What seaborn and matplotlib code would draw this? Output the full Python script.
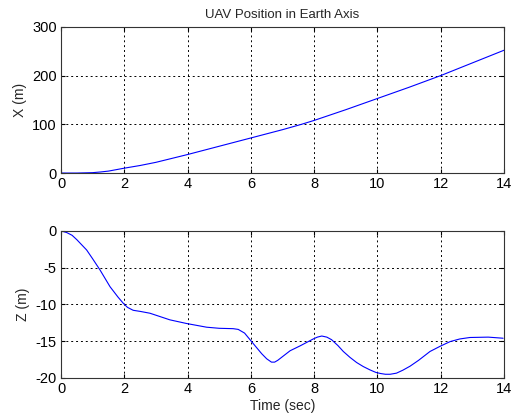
import pandas as pd
import seaborn as sns
import matplotlib.pyplot as plt

# values
time_x = [0, 0.5, 1.0, 1.25, 1.5, 2.0, 2.5, 3.0, 3.5, 4.0, 5.0, 6.0, 7.0, 7.6, 8.0, 9.0,
          10.0, 11.0, 12.0, 13.0, 14.0]
x_pos = [0, 0, 0.8, 2.2, 4, 10, 15.5, 22, 30, 38, 55, 72, 89, 100, 108, 130,
         153, 176, 200, 226, 252]

time_z = [0, 0.18, 0.35, 0.5, 0.81, 1.0, 1.23, 1.55, 1.8, 1.97, 2.1, 2.28, 2.5, 2.81, 3.44,
          3.97, 4.6, 5.0, 5.44, 5.6, 5.8, 6.03, 6.34, 6.5, 6.65, 6.75, 6.85, 7.0, 7.24,
          7.55, 7.97, 8.1, 8.24, 8.4, 8.55, 8.75, 8.92, 9.13, 9.34, 9.55, 9.76, 9.95, 10.1,
          10.25, 10.4, 10.6, 10.8, 11.03, 11.3, 11.66, 12.0, 12.3, 12.6, 12.92, 13.5, 13.97]
z_pos = [0, -0.23, -0.6, -1.2, -2.6, -3.8, -5.3, -7.6, -9.0, -9.86, -10.4, -10.8, -10.95,
         -11.2, -12.1, -12.6, -13.1, -13.25, -13.3, -13.4, -13.9, -15.1, -16.7, -17.4,
         -17.85, -17.85, -17.6, -17.1, -16.3, -15.65, -14.7, -14.45, -14.3, -14.45, -14.8,
         -15.6, -16.4, -17.2, -17.9, -18.45, -18.9, -19.25, -19.4, -19.5, -19.5, -19.35,
         -18.95, -18.4, -17.6, -16.4, -15.65, -15.05, -14.7, -14.5, -14.45, -14.6]

df_x = pd.DataFrame({"t": time_x, "x": x_pos})
df_z = pd.DataFrame({"t": time_z, "z": z_pos})

sns.set_style("white")
plt.rcParams['font.family'] = ['Liberation Sans', 'DejaVu Sans']
plt.rcParams['axes.unicode_minus'] = False

fig = plt.figure(figsize=(5.17, 4.19), dpi=100)
ax1 = fig.add_axes([0.118, 0.587, 0.857, 0.349])
ax2 = fig.add_axes([0.118, 0.098, 0.857, 0.351])

sns.lineplot(data=df_x, x="t", y="x", ax=ax1, color="#0000ff", linewidth=0.8)
sns.lineplot(data=df_z, x="t", y="z", ax=ax2, color="#0000ff", linewidth=0.8)

for ax in (ax1, ax2):
    ax.set_xlim(0, 14)
    ax.set_xticks(range(0, 15, 2))
    ax.grid(True, color="black", linestyle=(0, (2, 3)), linewidth=0.7)
    ax.tick_params(direction="in", length=3, labelsize=10.5, top=True, right=True,
                   bottom=True, left=True, pad=3, colors="black")
    for s in ax.spines.values():
        s.set_color("#333333")
        s.set_linewidth(0.8)

ax1.set_ylim(0, 300)
ax1.set_yticks([0, 100, 200, 300])
ax1.set_xlabel("")
ax1.set_ylabel("X (m)", fontsize=10)
ax1.set_title("UAV Position in Earth Axis", fontsize=9.5)

ax2.set_ylim(-20, 0)
ax2.set_yticks([-20, -15, -10, -5, 0])
ax2.set_xlabel("Time (sec)", fontsize=10, labelpad=2)
ax2.set_ylabel("Z (m)", fontsize=10)

fig.savefig("out.png", dpi=100)
